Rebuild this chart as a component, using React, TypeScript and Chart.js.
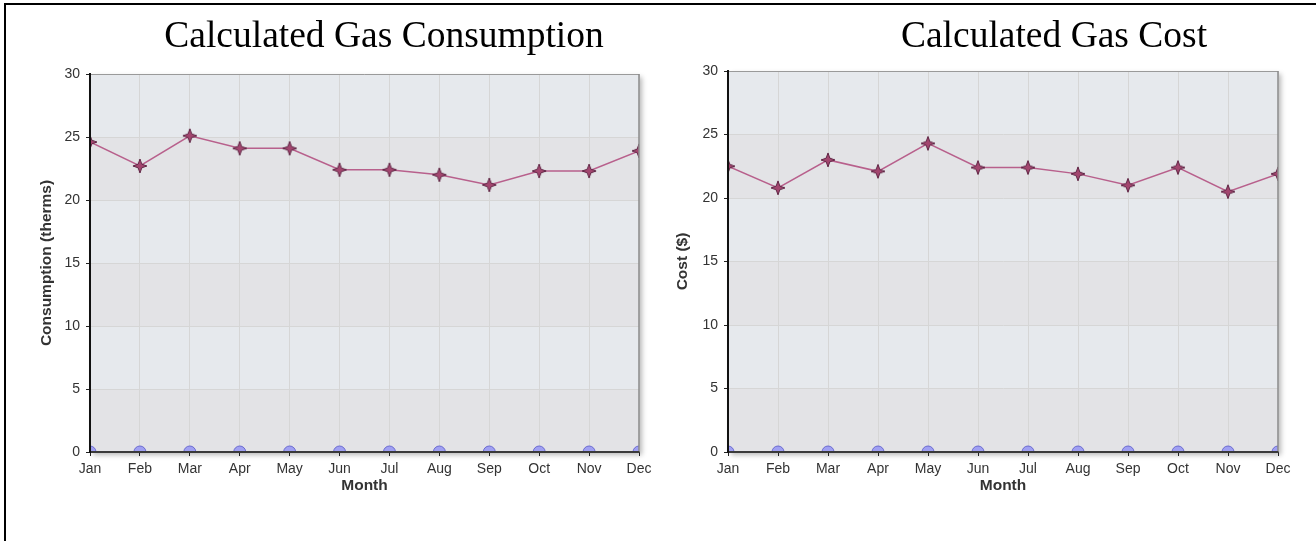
import React, { useEffect, useRef } from 'react';
import { Chart, registerables } from 'chart.js';

Chart.register(...registerables);

const months = ['Jan', 'Feb', 'Mar', 'Apr', 'May', 'Jun', 'Jul', 'Aug', 'Sep', 'Oct', 'Nov', 'Dec'];
const consumptionTherms = [24.6, 22.7, 25.1, 24.1, 24.1, 22.4, 22.4, 22.0, 21.2, 22.3, 22.3, 23.9];
const costDollars = [22.5, 20.8, 23.0, 22.1, 24.3, 22.4, 22.4, 21.9, 21.0, 22.4, 20.5, 21.9];
const baselineZero = [0, 0, 0, 0, 0, 0, 0, 0, 0, 0, 0, 0];
const yTickValues = [0, 5, 10, 15, 20, 25, 30];

const TICK_FONT = { family: 'Liberation Sans', size: 14 };
const AXIS_TITLE_FONT = { family: 'Liberation Sans', size: 15.5, weight: 'bold' as const };

function makeStar(): HTMLCanvasElement {
  const c = document.createElement('canvas');
  c.width = 16;
  c.height = 16;
  const g = c.getContext('2d')!;
  g.beginPath();
  for (let i = 0; i < 8; i++) {
    const ang = (i * Math.PI) / 4 - Math.PI / 2;
    const r = i % 2 === 0 ? 7 : 2.6;
    const px = 8 + r * Math.cos(ang);
    const py = 8 + r * Math.sin(ang);
    if (i === 0) g.moveTo(px, py);
    else g.lineTo(px, py);
  }
  g.closePath();
  g.fillStyle = '#a3466f';
  g.fill();
  g.strokeStyle = '#5e2343';
  g.lineWidth = 1;
  g.stroke();
  return c;
}

const plotDecor = {
  id: 'plotDecor',
  afterLayout(chart: any, _args: any, opts: any) {
    const tb = chart.titleBlock;
    if (tb && opts && typeof opts.titleCenter === 'number') {
      const w = tb.right - tb.left;
      tb.left = opts.titleCenter - w / 2;
      tb.right = opts.titleCenter + w / 2;
    }
  },
  beforeDraw(chart: any) {
    const { ctx, chartArea: a } = chart;
    const y = chart.scales.y;
    ctx.save();
    ctx.shadowColor = 'rgba(0,0,0,0.28)';
    ctx.shadowBlur = 5;
    ctx.shadowOffsetX = 3;
    ctx.shadowOffsetY = 3;
    ctx.fillStyle = '#e5e6e9';
    ctx.fillRect(a.left, a.top, a.right - a.left, a.bottom - a.top);
    ctx.restore();
    ctx.save();
    for (let i = 0; i < yTickValues.length - 1; i++) {
      const yb = y.getPixelForValue(yTickValues[i]);
      const yt = y.getPixelForValue(yTickValues[i + 1]);
      ctx.fillStyle = i % 2 === 0 ? '#e3e3e6' : '#e6e9ed';
      ctx.fillRect(a.left, yt, a.right - a.left, yb - yt);
    }
    ctx.restore();
  },
  afterDatasetsDraw(chart: any) {
    const { ctx, chartArea: a } = chart;
    ctx.save();
    ctx.strokeStyle = '#9a9a9a';
    ctx.lineWidth = 1;
    ctx.beginPath();
    ctx.moveTo(a.left, a.top + 0.5);
    ctx.lineTo(a.right, a.top + 0.5);
    ctx.stroke();
    ctx.strokeStyle = '#8a8a8a';
    ctx.lineWidth = 1.5;
    ctx.beginPath();
    ctx.moveTo(a.right, a.top);
    ctx.lineTo(a.right, a.bottom);
    ctx.stroke();
    ctx.strokeStyle = '#3a3a3a';
    ctx.lineWidth = 2;
    ctx.beginPath();
    ctx.moveTo(a.left, a.bottom);
    ctx.lineTo(a.right, a.bottom);
    ctx.stroke();
    ctx.strokeStyle = '#111';
    ctx.lineWidth = 2;
    ctx.beginPath();
    ctx.moveTo(a.left, a.top);
    ctx.lineTo(a.left, a.bottom + 1);
    ctx.stroke();
    ctx.restore();
  },
};

interface Params {
  title: string;
  yTitle: string;
  values: number[];
  seriesLabel: string;
  titleCenter: number;
  yAxisWidth: number;
  yTitlePad: number;
  padRight: number;
  titlePadBottom: number;
  star: HTMLCanvasElement;
}

function makeConfig(p: Params): any {
  return {
    type: 'line',
    data: {
      labels: months,
      datasets: [
        {
          label: p.seriesLabel,
          data: p.values,
          borderColor: '#b8608c',
          borderWidth: 1.5,
          pointStyle: p.star,
          pointRadius: 7,
          pointHoverRadius: 7,
          tension: 0,
          fill: false,
          clip: 0,
        },
        {
          label: 'Baseline',
          data: baselineZero,
          borderColor: '#8080e0',
          borderWidth: 1,
          pointStyle: 'circle',
          pointRadius: 6,
          pointHoverRadius: 6,
          pointBackgroundColor: '#a0a0f2',
          pointBorderColor: '#6a6ad0',
          pointBorderWidth: 1,
          fill: false,
          clip: 0,
        },
      ],
    },
    options: {
      responsive: false,
      animation: false,
      events: [],
      layout: { padding: { left: 0, right: p.padRight, top: 0, bottom: 0 } },
      plugins: {
        legend: { display: false },
        tooltip: { enabled: false },
        title: {
          display: true,
          text: p.title,
          color: '#000',
          font: { family: 'Liberation Serif', size: 37.5, weight: 'normal' },
          padding: { top: 15, bottom: p.titlePadBottom },
        },
        plotDecor: { titleCenter: p.titleCenter },
      },
      scales: {
        x: {
          type: 'category',
          offset: false,
          grid: { color: '#d6d6d6', tickColor: '#222', tickLength: 4, lineWidth: 1 },
          border: { display: true, color: '#3a3a3a', width: 2 },
          ticks: { color: '#333', font: TICK_FONT, padding: 5, maxRotation: 0, autoSkip: false },
          title: {
            display: true,
            text: 'Month',
            color: '#333',
            font: AXIS_TITLE_FONT,
            padding: { top: 0, bottom: 46.2 },
          },
          afterFit: (s: any) => {
            s.height = 89;
          },
        },
        y: {
          min: 0,
          max: 30,
          grid: { color: '#d6d6d6', tickColor: '#222', tickLength: 4, lineWidth: 1 },
          border: { display: true, color: '#111', width: 2 },
          ticks: { stepSize: 5, color: '#333', font: TICK_FONT, padding: 6 },
          title: {
            display: true,
            text: p.yTitle,
            color: '#333',
            font: AXIS_TITLE_FONT,
            padding: { top: p.yTitlePad, bottom: 0 },
          },
          afterFit: (s: any) => {
            s.width = p.yAxisWidth;
          },
        },
      },
    },
    plugins: [plotDecor],
  };
}

export default function App() {
  const leftRef = useRef<HTMLCanvasElement>(null);
  const rightRef = useRef<HTMLCanvasElement>(null);

  useEffect(() => {
    const star = makeStar();
    const c1 = new Chart(
      leftRef.current!,
      makeConfig({
        title: 'Calculated Gas Consumption',
        yTitle: 'Consumption (therms)',
        values: consumptionTherms,
        seriesLabel: 'Consumption',
        titleCenter: 384,
        yAxisWidth: 90,
        yTitlePad: 37.7,
        padRight: 19,
        titlePadBottom: 14,
        star,
      })
    );
    const c2 = new Chart(
      rightRef.current!,
      makeConfig({
        title: 'Calculated Gas Cost',
        yTitle: 'Cost ($)',
        values: costDollars,
        seriesLabel: 'Cost',
        titleCenter: 396,
        yAxisWidth: 70,
        yTitlePad: 15,
        padRight: 38,
        titlePadBottom: 11,
        star,
      })
    );
    return () => {
      c1.destroy();
      c2.destroy();
    };
  }, []);

  return (
    <div
      style={{
        position: 'fixed',
        left: 0,
        top: 0,
        width: 1316,
        height: 541,
        background: '#fff',
        overflow: 'hidden',
      }}
    >
      <div
        style={{
          position: 'absolute',
          left: 4,
          top: 3,
          width: 1400,
          height: 600,
          borderTop: '2px solid #000',
          borderLeft: '2px solid #000',
        }}
      />
      <canvas
        ref={leftRef}
        width={658}
        height={541}
        style={{ position: 'absolute', left: 0, top: 0, display: 'block' }}
      />
      <canvas
        ref={rightRef}
        width={658}
        height={541}
        style={{ position: 'absolute', left: 658, top: 0, display: 'block' }}
      />
    </div>
  );
}
